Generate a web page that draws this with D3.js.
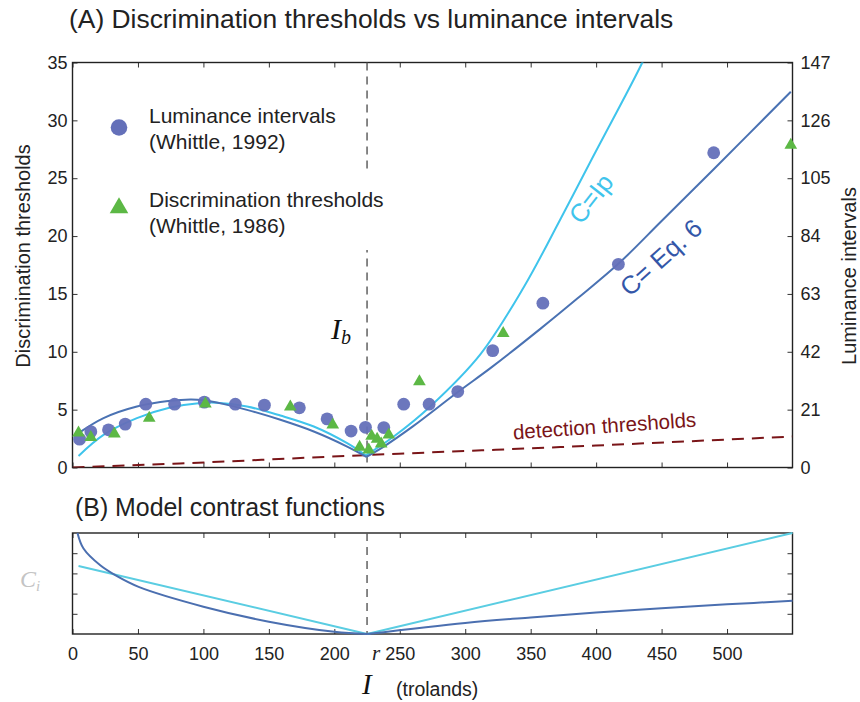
<!DOCTYPE html>
<html>
<head>
<meta charset="utf-8">
<script src="https://cdn.jsdelivr.net/npm/d3@7"></script>
<style>
  body { margin: 0; background: #fff; }
  svg { display: block; }
  text { font-family: "Liberation Sans", Arial, Helvetica, sans-serif; fill: #222; }
  .math { font-family: "Liberation Serif", "DejaVu Serif", serif; font-style: italic; }
</style>
</head>
<body>
<svg id="chart"></svg>
<script>
// ---- data ----
// Whittle (1992) luminance intervals, on the threshold scale (I in trolands)
const circleI   = [5.4, 14, 27.5, 40.3, 56, 78, 100.7, 124.4, 146.6, 173.3, 194.5, 212.8, 223.8, 237.8, 253, 272.4, 294.3, 321, 359.3, 417, 489.8];
const circleVal = [2.45, 3.1, 3.26, 3.75, 5.47, 5.47, 5.65, 5.47, 5.39, 5.16, 4.2, 3.15, 3.47, 3.45, 5.47, 5.47, 6.56, 10.1, 14.2, 17.56, 27.2];
// Whittle (1986) discrimination thresholds
const triI   = [4.6, 14, 32, 58.6, 101.5, 166.4, 198.8, 219.3, 226.3, 228.5, 232.7, 235.8, 241.6, 265, 329, 548.7];
const triVal = [3.0, 2.6, 2.9, 4.27, 5.5, 5.25, 3.69, 1.76, 1.53, 2.72, 2.45, 2.05, 2.82, 7.43, 11.6, 27.87];

// model fits, panel A  [I, threshold]
const eq6Left  = [[4.6, 2.97], [23.7, 4.27], [49.2, 5.27], [74.7, 5.76], [90, 5.88], [100, 5.82], [115, 5.5], [133.3, 4.98], [158.8, 4.12], [184.3, 3.11], [209.8, 1.81], [224.5, 0.92]];
const eq6Right = [[224.5, 0.92], [237.8, 1.81], [260, 3.55], [293.9, 6.48], [320, 8.65], [357.6, 12.0], [385.6, 14.6], [417.4, 17.65], [450, 21.3], [490, 25.8], [548.7, 32.47]];
const ipLeft   = [[4.6, 1.0], [23.7, 2.82], [49.2, 4.27], [74.7, 5.18], [96.3, 5.56], [110, 5.6], [133.3, 5.27], [158.8, 4.49], [184.3, 3.54], [209.8, 2.1], [224, 1.05]];
const ipRight  = [[224, 1.05], [245.4, 2.68], [273.5, 5.3], [311.7, 9.8], [344.8, 15.6], [372.9, 21.5], [398.3, 27.0], [435.3, 35], [445, 37.5]];
const detection = [[0, 0], [82, 0.35], [210, 1.0], [400, 1.9], [550, 2.68]];

// model contrast functions, panel B  [I, C]
const eq6BLeft  = [[3.8, 5], [8.4, 4.23], [21.2, 3.4], [34, 2.86], [50.5, 2.33], [100, 1.35], [150, 0.61], [200, 0.11], [225, 0]];
const eq6BRight = [[225, 0], [300, 0.55], [350, 0.82], [400, 1.06], [450, 1.28], [500, 1.47], [550, 1.64]];
const ipBLeft   = [[4.6, 3.37], [225, 0]];
const ipBRight  = [[225, 0], [550, 5]];

const Ib = 225;
const xTicks = d3.range(0, 501, 50);
const yTicks = d3.range(0, 36, 5);
const yRightTicks = d3.range(0, 148, 21);
const bTicks = [1, 2, 3, 4];

// ---- layout ----
const W = 860, H = 702;
const left = 72.5, right = 792.5;
const topA = 62.5, botA = 467.5;
const topB = 533, botB = 634;

const colDark = "#4a72b3", colCyan = "#3fc4ec";
const colDarkB = "#4b6fb0", colCyanB = "#5acde2";
const colCircle = "#6470b9", colTri = "#5cb845";

const svg = d3.select("#chart").attr("width", W).attr("height", H);

const x = d3.scaleLinear().domain([0, 550]).range([left, right]);
const y = d3.scaleLinear().domain([0, 35]).range([botA, topA]);
const yR = d3.scaleLinear().domain([0, 147]).range([botA, topA]);
const yB = d3.scaleLinear().domain([0, 5]).range([botB, topB]);

// titles
svg.append("text").attr("x", 69).attr("y", 28).attr("font-size", 26.4).text("(A) Discrimination thresholds vs luminance intervals");
svg.append("text").attr("x", 75).attr("y", 516).attr("font-size", 24.9).text("(B) Model contrast functions");

// ---- panel A ----
svg.append("defs").append("clipPath").attr("id", "clipA")
  .append("rect").attr("x", left).attr("y", topA).attr("width", right - left).attr("height", botA - topA);

const gA = svg.append("g");

function tidy(g) {
  g.select(".domain").remove();
  g.selectAll(".tick line").attr("stroke", "#333").attr("stroke-width", 1);
  g.selectAll(".tick text").attr("font-size", 18).attr("fill", "#222")
    .attr("font-family", "Liberation Sans, Arial, sans-serif");
}

gA.append("g").attr("transform", `translate(${left},0)`)
  .call(d3.axisLeft(y).tickValues(yTicks).tickSizeInner(-5).tickSizeOuter(0).tickPadding(5))
  .call(tidy);
gA.append("g").attr("transform", `translate(${right},0)`)
  .call(d3.axisRight(yR).tickValues(yRightTicks).tickSizeInner(-5).tickSizeOuter(0).tickPadding(8))
  .call(tidy);
gA.append("g").attr("transform", `translate(0,${botA})`)
  .call(d3.axisBottom(x).tickValues(xTicks).tickSizeInner(-5).tickSizeOuter(0).tickFormat(""))
  .call(tidy);
gA.append("g").attr("transform", `translate(0,${topA})`)
  .call(d3.axisTop(x).tickValues(xTicks).tickSizeInner(-5).tickSizeOuter(0).tickFormat(""))
  .call(tidy);

gA.append("rect").attr("x", left).attr("y", topA).attr("width", right - left).attr("height", botA - topA)
  .attr("fill", "none").attr("stroke", "#222").attr("stroke-width", 1.4);

// axis titles
svg.append("text").attr("transform", `translate(30,${(topA + botA) / 2 - 9}) rotate(-90)`)
  .attr("text-anchor", "middle").attr("font-size", 20).text("Discrimination thresholds");
svg.append("text").attr("transform", `translate(856,${(topA + botA) / 2 + 11}) rotate(-90)`)
  .attr("text-anchor", "middle").attr("font-size", 20).text("Luminance intervals");

// Ib dashed line
gA.append("line").attr("x1", x(Ib)).attr("x2", x(Ib)).attr("y1", topA).attr("y2", botA)
  .attr("stroke", "#555").attr("stroke-width", 1.4).attr("stroke-dasharray", "8,6");

const plot = gA.append("g").attr("clip-path", "url(#clipA)");
const line = d3.line().x(d => x(d[0])).y(d => y(d[1])).curve(d3.curveCatmullRom.alpha(0.5));

plot.append("path").datum(detection).attr("d", d3.line().x(d => x(d[0])).y(d => y(d[1])).curve(d3.curveMonotoneX))
  .attr("fill", "none").attr("stroke", "#7a1518").attr("stroke-width", 2).attr("stroke-dasharray", "12,8");

[ipLeft, ipRight].forEach(s => plot.append("path").datum(s).attr("d", line)
  .attr("fill", "none").attr("stroke", colCyan).attr("stroke-width", 2));
[eq6Left, eq6Right].forEach(s => plot.append("path").datum(s).attr("d", line)
  .attr("fill", "none").attr("stroke", colDark).attr("stroke-width", 2));

plot.append("g").selectAll("circle").data(d3.range(circleI.length)).join("circle")
  .attr("cx", i => x(circleI[i])).attr("cy", i => y(circleVal[i])).attr("r", 6.4)
  .attr("fill", colCircle).attr("fill-opacity", 0.95);

const tri = d3.symbol().type(d3.symbolTriangle).size(70);
gA.append("g").selectAll("path").data(d3.range(triI.length)).join("path")
  .attr("transform", i => `translate(${x(triI[i])},${y(triVal[i])})`)
  .attr("d", tri).attr("fill", colTri);

// legend
const leg = gA.append("g");
leg.append("rect").attr("x", 100).attr("y", 173).attr("width", 290).attr("height", 77).attr("fill", "#fff");
leg.append("circle").attr("cx", 119).attr("cy", 127.5).attr("r", 8.3).attr("fill", colCircle);
leg.append("path").attr("transform", "translate(119,208)").attr("d", d3.symbol().type(d3.symbolTriangle).size(150)).attr("fill", colTri);
[["Luminance intervals", 122.5], ["(Whittle, 1992)", 148.5], ["Discrimination thresholds", 206.5], ["(Whittle, 1986)", 232.5]]
  .forEach(([t, yy]) => leg.append("text").attr("x", 149).attr("y", yy).attr("font-size", 21).text(t));

// curve labels
svg.append("text").attr("transform", "translate(598,204) rotate(-52)").attr("text-anchor", "middle")
  .attr("font-size", 25.5).style("fill", colCyan).text("C=Ip");
svg.append("text").attr("transform", "translate(667,264) rotate(-42)").attr("text-anchor", "middle")
  .attr("font-size", 25.5).style("fill", "#3356a8").text("C= Eq. 6");
svg.append("text").attr("transform", "translate(605,433) rotate(-4)").attr("text-anchor", "middle")
  .attr("font-size", 20.5).style("fill", "#7a1518").text("detection thresholds");

const ibLab = svg.append("text").attr("class", "math").attr("x", 331).attr("y", 339).attr("font-size", 30).style("fill", "#111");
ibLab.append("tspan").text("I");
ibLab.append("tspan").attr("font-size", 20).attr("dy", 5).text("b");

// ---- panel B ----
const gB = svg.append("g");
gB.append("g").attr("transform", `translate(${left},0)`)
  .call(d3.axisLeft(yB).tickValues(bTicks).tickSizeInner(-5).tickSizeOuter(0).tickFormat(""))
  .call(tidy);
gB.append("g").attr("transform", `translate(${right},0)`)
  .call(d3.axisRight(yB).tickValues(bTicks).tickSizeInner(-5).tickSizeOuter(0).tickFormat(""))
  .call(tidy);
gB.append("g").attr("transform", `translate(0,${topB})`)
  .call(d3.axisTop(x).tickValues(xTicks).tickSizeInner(-5).tickSizeOuter(0).tickFormat(""))
  .call(tidy);
gB.append("g").attr("transform", `translate(0,${botB})`)
  .call(d3.axisBottom(x).tickValues(xTicks).tickSizeInner(-5).tickSizeOuter(0).tickPadding(13))
  .call(tidy);
gB.append("rect").attr("x", left).attr("y", topB).attr("width", right - left).attr("height", botB - topB)
  .attr("fill", "none").attr("stroke", "#222").attr("stroke-width", 1.4);

gB.append("line").attr("x1", x(Ib)).attr("x2", x(Ib)).attr("y1", topB).attr("y2", botB)
  .attr("stroke", "#555").attr("stroke-width", 1.4).attr("stroke-dasharray", "8,6");

const lineB = d3.line().x(d => x(d[0])).y(d => yB(d[1])).curve(d3.curveCatmullRom.alpha(0.5));
[ipBLeft, ipBRight].forEach(s => gB.append("path").datum(s).attr("d", lineB)
  .attr("fill", "none").attr("stroke", colCyanB).attr("stroke-width", 2));
[eq6BLeft, eq6BRight].forEach(s => gB.append("path").datum(s).attr("d", lineB)
  .attr("fill", "none").attr("stroke", colDarkB).attr("stroke-width", 2));

svg.append("text").attr("class", "math").attr("x", x(Ib) + 9).attr("y", 660).attr("text-anchor", "middle")
  .attr("font-size", 21).text("r");

const ciLab = svg.append("text").attr("class", "math").attr("x", 20).attr("y", 587).attr("font-size", 24).style("fill", "#c4c4c4");
ciLab.append("tspan").text("C");
ciLab.append("tspan").attr("font-size", 15).attr("dy", 4).text("i");

svg.append("text").attr("class", "math").attr("x", 362).attr("y", 694).attr("font-size", 29).style("fill", "#111").text("I");
svg.append("text").attr("x", 396).attr("y", 696).attr("font-size", 19.5).text("(trolands)");
</script>
</body>
</html>
